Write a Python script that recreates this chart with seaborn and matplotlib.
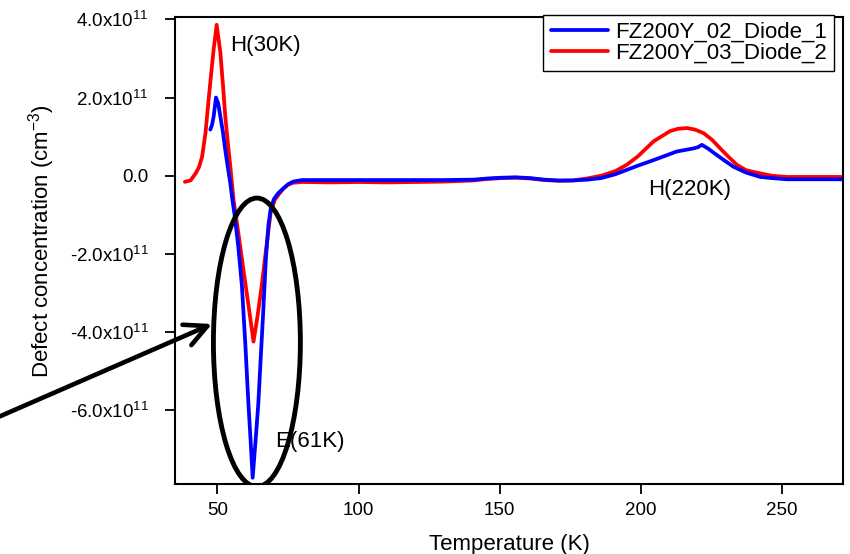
import matplotlib
matplotlib.use("Agg")
import matplotlib.pyplot as plt
from matplotlib.patches import Ellipse
import numpy as np
import pandas as pd
import seaborn as sns

# ---------------- data (concentration in units of 1e11 cm^-3) ----------------
series_names = ["FZ200Y_02_Diode_1", "FZ200Y_03_Diode_2"]
series_colors = ["#0000ff", "#ff0000"]

temp_diode1 = [47.5, 48.1, 48.7, 49.5, 50.3, 51.05, 52.0, 52.8, 53.7, 54.6,
               55.2, 56.1, 57.4, 58.7, 59.9, 61.0, 61.8, 62.5, 63.5, 64.5,
               65.4, 66.3, 67.2, 68.1, 68.9, 70.0, 71.5, 73.4, 75.0, 76.8,
               80, 90, 100, 110, 120, 130, 140.6, 145.7, 150.7, 155.7,
               160.8, 165.8, 170.8, 175.9, 180.9, 185.9, 191.0, 195.0, 199.0, 204.5,
               208.6, 212.7, 215.7, 218.7, 220.2, 221.6, 223.7, 226.9, 229.8, 232.8,
               237.3, 242.3, 246.4, 251.6, 261.4, 271.5]
conc_diode1 = [1.18, 1.3, 1.52, 2.0, 1.85, 1.52, 1.1, 0.66, 0.22, -0.2,
               -0.55, -1.0, -1.8, -2.82, -4.3, -5.83, -6.8, -7.72, -6.8, -5.83,
               -4.6, -3.4, -2.1, -1.25, -0.84, -0.6, -0.45, -0.32, -0.22, -0.15,
               -0.11, -0.11, -0.11, -0.11, -0.11, -0.11, -0.1, -0.07, -0.05, -0.04,
               -0.06, -0.1, -0.12, -0.12, -0.1, -0.06, 0.04, 0.15, 0.26, 0.4,
               0.51, 0.62, 0.66, 0.7, 0.73, 0.79, 0.7, 0.53, 0.38, 0.23,
               0.08, -0.03, -0.06, -0.09, -0.09, -0.09]

temp_diode2 = [38.5, 40.5, 42.3, 43.5, 44.6, 45.8, 46.9, 48.0, 48.7, 49.75,
               51.05, 52.0, 52.8, 53.7, 54.6, 55.7, 57.5, 59.2, 61.0, 62.8,
               64.2, 65.7, 67.3, 68.9, 70.3, 72.0, 73.4, 75.0, 76.8, 80,
               90, 100, 110, 120, 130, 140.6, 145.7, 150.7, 155.7, 160.8,
               165.8, 170.8, 175.9, 180.9, 185.9, 191.0, 195.0, 199.0, 204.5, 210.3,
               213.1, 216.3, 219.2, 222.2, 225.2, 228.1, 230.8, 234.0, 237.3, 242.3,
               246.4, 251.6, 261.4, 271.5]
conc_diode2 = [-0.155, -0.12, 0.06, 0.22, 0.49, 1.1, 1.95, 2.75, 3.24, 3.86,
               3.16, 2.3, 1.52, 0.85, 0.23, -0.6, -1.5, -2.39, -3.3, -4.24,
               -3.6, -2.82, -1.85, -0.93, -0.62, -0.45, -0.33, -0.23, -0.18, -0.16,
               -0.17, -0.16, -0.17, -0.16, -0.15, -0.12, -0.08, -0.06, -0.05, -0.07,
               -0.11, -0.13, -0.12, -0.07, 0.0, 0.12, 0.28, 0.5, 0.88, 1.14,
               1.2, 1.22, 1.18, 1.09, 0.92, 0.7, 0.5, 0.28, 0.14, 0.06,
               0.0, -0.03, -0.03, -0.03]

x_ticks = [50, 100, 150, 200, 250]
x_tick_labels = ["50", "100", "150", "200", "250"]
y_ticks = [-6e11, -4e11, -2e11, 0.0, 2e11, 4e11]
y_tick_labels = ["-6.0x10$^{11}$", "-4.0x10$^{11}$", "-2.0x10$^{11}$", "0.0",
                 "2.0x10$^{11}$", "4.0x10$^{11}$"]
x_label = "Temperature (K)"
y_label = "Defect concentration (cm$^{-3}$)"
peak_labels = ["H(30K)", "E(61K)", "H(220K)"]

# ---------------- style ----------------
sns.set_style("ticks")
plt.rcParams["font.family"] = ["Liberation Sans", "DejaVu Sans"]
plt.rcParams["mathtext.fontset"] = "custom"
plt.rcParams["mathtext.rm"] = "Liberation Sans"
plt.rcParams["mathtext.it"] = "Liberation Sans:italic"
plt.rcParams["mathtext.bf"] = "Liberation Sans:bold"
plt.rcParams["mathtext.default"] = "regular"
for key in ["text.color", "axes.labelcolor", "xtick.color", "ytick.color",
            "xtick.labelcolor", "ytick.labelcolor", "axes.edgecolor"]:
    plt.rcParams[key] = "black"

df = pd.concat([
    pd.DataFrame({"T": temp_diode1, "N": np.array(conc_diode1) * 1e11, "series": series_names[0]}),
    pd.DataFrame({"T": temp_diode2, "N": np.array(conc_diode2) * 1e11, "series": series_names[1]}),
], ignore_index=True)

fig = plt.figure(figsize=(8.5, 5.54), dpi=100)
ax = fig.add_axes([0.2059, 0.1264, 0.7859, 0.843])

# red first, blue on top
for name, color in [(series_names[1], series_colors[1]), (series_names[0], series_colors[0])]:
    sub = df[df["series"] == name]
    sns.lineplot(data=sub, x="T", y="N", ax=ax, color=color, lw=2.7,
                 label=name, sort=False, estimator=None)

ax.set_xlim(35.0, 271.6)
ax.set_ylim(-7.88e11, 4.06e11)
ax.set_xticks(x_ticks)
ax.set_xticklabels(x_tick_labels)
ax.set_yticks(y_ticks)
ax.set_yticklabels(y_tick_labels)
ax.tick_params(axis="both", direction="out", length=7, width=1.3,
               labelsize=13.5, colors="black")
ax.tick_params(axis="x", pad=6)
ax.tick_params(axis="y", pad=12)
for s in ax.spines.values():
    s.set_visible(True)
    s.set_linewidth(1.5)
    s.set_color("black")

ax.set_xlabel(x_label, fontsize=16, labelpad=11)
ax.set_ylabel(y_label, fontsize=16)
ax.yaxis.set_label_coords(-0.176, 0.52)

# annotations
ax.text(54.6, 3.33e11, peak_labels[0], fontsize=16, ha="left", va="center", zorder=3)
ax.text(70.5, -6.79e11, peak_labels[1], fontsize=16, ha="left", va="center", zorder=3)
ax.text(217.4, -0.36e11, peak_labels[2], fontsize=16, ha="center", va="center", zorder=3)

ell = Ellipse((64.0, -4.26e11), 30.8, 7.38e11, fill=False, ec="black", lw=3.5, zorder=5)
ax.add_patch(ell)

ax.annotate("", xy=(212, 230), xycoords="figure pixels",
            xytext=(-20, 129), textcoords="figure pixels",
            arrowprops=dict(arrowstyle="->,head_length=0.8,head_width=0.4",
                            lw=3.3, color="black", shrinkA=0, shrinkB=0,
                            mutation_scale=20),
            annotation_clip=False, zorder=6)

handles, labels = ax.get_legend_handles_labels()
order = [labels.index(n) for n in series_names]
leg = ax.legend([handles[i] for i in order], [labels[i] for i in order],
                loc="upper right", bbox_to_anchor=(0.9865, 1.0043),
                borderaxespad=0, frameon=True, fancybox=False, edgecolor="black",
                framealpha=1, fontsize=16, handlelength=2.6, handletextpad=0.3,
                labelspacing=0.0, borderpad=0.32)
leg.get_frame().set_linewidth(1.0)
for line in leg.get_lines():
    line.set_linewidth(2.7)

fig.savefig("out.png", dpi=100)
